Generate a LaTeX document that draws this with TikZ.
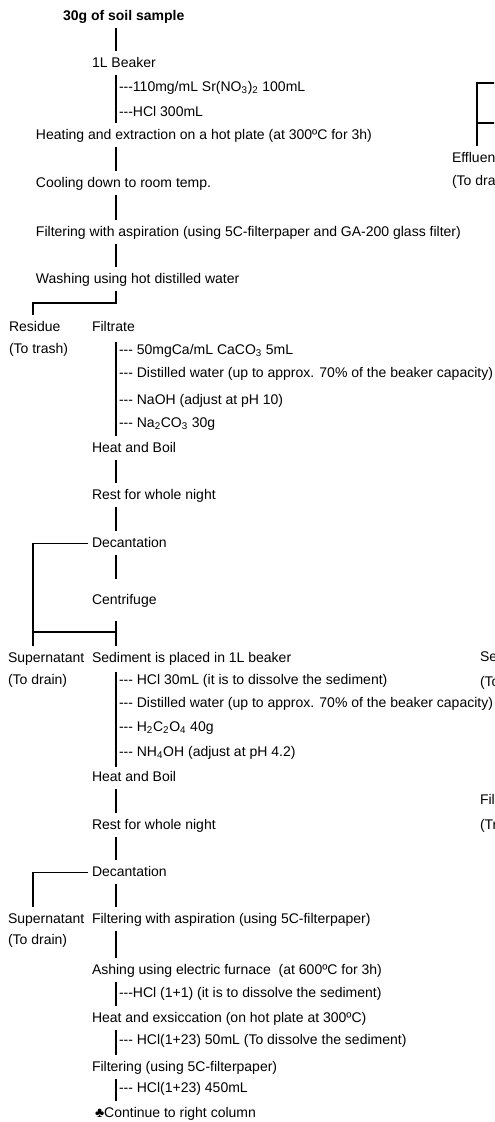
\documentclass[tikz,border=0pt]{standalone}
\usepackage{fontspec}
\setmainfont{Liberation Sans}
\newcommand{\dsh}{-{}-{}-}

\begin{document}
\begin{tikzpicture}[x=0.75pt, y=-0.75pt,
    txt/.style={anchor=base west, inner sep=0pt, outer sep=0pt,
      text height=7.5pt, text depth=2.25pt, font=\fontsize{10.5pt}{12pt}\selectfont},
    conn/.style={line width=1.4pt, shorten <=3.75pt, shorten >=4.5pt}]
    \useasboundingbox (0,0) rectangle (494,1122);
    \clip (0,0) rectangle (494,1122);

    % guide lines
    \coordinate (spine) at (116,0);
    \coordinate (lft) at (33,0);
    \coordinate (redge) at (500,0);

    % Extraction
    \node[txt, font=\fontsize{10.5pt}{12pt}\selectfont\bfseries] (sample) at (63,20) {30g of soil sample};
    \node[txt] (beaker) at (92,67) {1L Beaker};
    \node[txt] (sr) at (119,91) {\dsh110mg/mL Sr(NO\textsubscript{3})\textsubscript{2} 100mL};
    \node[txt] (hcla) at (119,116) {\dsh HCl 300mL};
    \node[txt] (heat) at (36,139) {Heating and extraction on a hot plate (at 300ºC for 3h)};
    \node[txt] (cool) at (36,187) {Cooling down to room temp.};
    \node[txt] (filta) at (36,236) {Filtering with aspiration (using 5C-filterpaper and GA-200 glass filter)};
    \node[txt] (wash) at (36,283) {Washing using hot distilled water};
    \node[txt] (residue) at (9,331) {Residue};
    \node[txt] (trash) at (9,353) {(To trash)};
    \node[txt] (filtrate) at (92,331) {Filtrate};

    % Carbonate precipitation
    \node[txt] (caco) at (119,354) {\dsh{} 50mgCa/mL CaCO\textsubscript{3} 5mL};
    \node[txt] (wata) at (119,377) {\dsh{} Distilled water (up to approx. 70\% of the beaker capacity)};
    \node[txt] (naoh) at (119,404) {\dsh{} NaOH (adjust at pH 10)};
    \node[txt] (naco) at (119,427) {\dsh{} Na\textsubscript{2}CO\textsubscript{3} 30g};
    \node[txt] (boila) at (92,452) {Heat and Boil};
    \node[txt] (resta) at (92,499) {Rest for whole night};
    \node[txt] (deca) at (92,547) {Decantation};
    \node[txt] (centr) at (92,604) {Centrifuge};
    \node[txt] (supa) at (8,662) {Supernatant};
    \node[txt] (draina) at (8,684) {(To drain)};
    \node[txt] (sed) at (92,662) {Sediment is placed in 1L beaker};

    % Oxalate precipitation
    \node[txt] (hclb) at (119,684) {\dsh{} HCl 30mL (it is to dissolve the sediment)};
    \node[txt] (watb) at (119,707) {\dsh{} Distilled water (up to approx. 70\% of the beaker capacity)};
    \node[txt] (oxal) at (119,731) {\dsh{} H\textsubscript{2}C\textsubscript{2}O\textsubscript{4} 40g};
    \node[txt] (nhoh) at (119,756) {\dsh{} NH\textsubscript{4}OH (adjust at pH 4.2)};
    \node[txt] (boilb) at (92,781) {Heat and Boil};
    \node[txt] (restb) at (92,829) {Rest for whole night};
    \node[txt] (decb) at (92,876) {Decantation};
    \node[txt] (supb) at (8,923) {Supernatant};
    \node[txt] (drainb) at (8,944) {(To drain)};
    \node[txt] (filtb) at (92,923) {Filtering with aspiration (using 5C-filterpaper)};

    % Ashing and dissolution
    \node[txt] (ash) at (92,974) {Ashing using electric furnace\ \ (at 600ºC for 3h)};
    \node[txt] (hclc) at (119,997) {\dsh HCl (1+1) (it is to dissolve the sediment)};
    \node[txt] (exs) at (92,1022) {Heat and exsiccation (on hot plate at 300ºC)};
    \node[txt] (hcld) at (119,1044) {\dsh{} HCl(1+23) 50mL (To dissolve the sediment)};
    \node[txt] (filtc) at (92,1071) {Filtering (using 5C-filterpaper)};
    \node[txt] (hcle) at (119,1092) {\dsh{} HCl(1+23) 450mL};
    \node[txt] (cont) at (95,1117) {♣Continue to right column};

    % right column (cut off)
    \node[txt] (effl) at (452,162) {Effluent};
    \node[txt] (effd) at (452,185) {(To drain)};
    \node[txt] (sedr) at (480,661) {Sediment};
    \node[txt] (sedt) at (480,686) {(To trash)};
    \node[txt] (filr) at (480,804) {Filter paper};
    \node[txt] (filt) at (480,829) {(Trash)};

    % main line
    \draw[conn] (sample.south -| spine) -- (beaker.north -| spine);
    \draw[conn] (beaker.south -| spine) -- (heat.north -| spine);
    \draw[conn] (heat.south -| spine) -- (cool.north -| spine);
    \draw[conn] (cool.south -| spine) -- (filta.north -| spine);
    \draw[conn] (filta.south -| spine) -- (wash.north -| spine);
    \coordinate (forka) at (116,303);
    \draw[conn] (wash.south -| spine) -- (forka) -- (forka -| lft) -- (residue.north -| lft);
    \draw[conn, shorten <=6pt] (filtrate.south -| spine) -- (boila.north -| spine);
    \draw[conn] (boila.south -| spine) -- (resta.north -| spine);
    \draw[conn] (resta.south -| spine) -- (deca.north -| spine);
    \draw[conn, shorten >=11pt] (deca.south -| spine) -- (centr.north -| spine);
    \draw[conn, shorten <=3pt] (deca.west) -- (deca.west -| lft) -- (supa.north -| lft);
    \draw[conn, shorten <=10.5pt] (centr.south -| spine) -- (sed.north -| spine);
    \coordinate (forkb) at (116,632);
    \draw[line width=1.4pt] (forkb -| lft) -- (forkb);
    \draw[conn, shorten <=5pt, shorten >=3pt] (sed.south -| spine) -- (boilb.north -| spine);
    \draw[conn] (boilb.south -| spine) -- (restb.north -| spine);
    \draw[conn] (restb.south -| spine) -- (decb.north -| spine);
    \draw[conn, shorten <=3pt] (decb.west) -- (decb.west -| lft) -- (supb.north -| lft);
    \draw[conn] (decb.south -| spine) -- (filtb.north -| spine);
    \draw[conn] (filtb.south -| spine) -- (ash.north -| spine);
    \draw[conn] (ash.south -| spine) -- (exs.north -| spine);
    \draw[conn] (exs.south -| spine) -- (filtc.north -| spine);
    \draw[conn] (filtc.south -| spine) -- (cont.north -| spine);

    % right column bracket
    \coordinate (rtop) at (477,83);
    \coordinate (rmid) at (477,123);
    \draw[conn, shorten <=0pt] (rtop -| redge) -- (rtop) -- (effl.north -| rtop);
    \draw[line width=1.4pt] (rmid) -- (rmid -| redge);
\end{tikzpicture}
\end{document}
